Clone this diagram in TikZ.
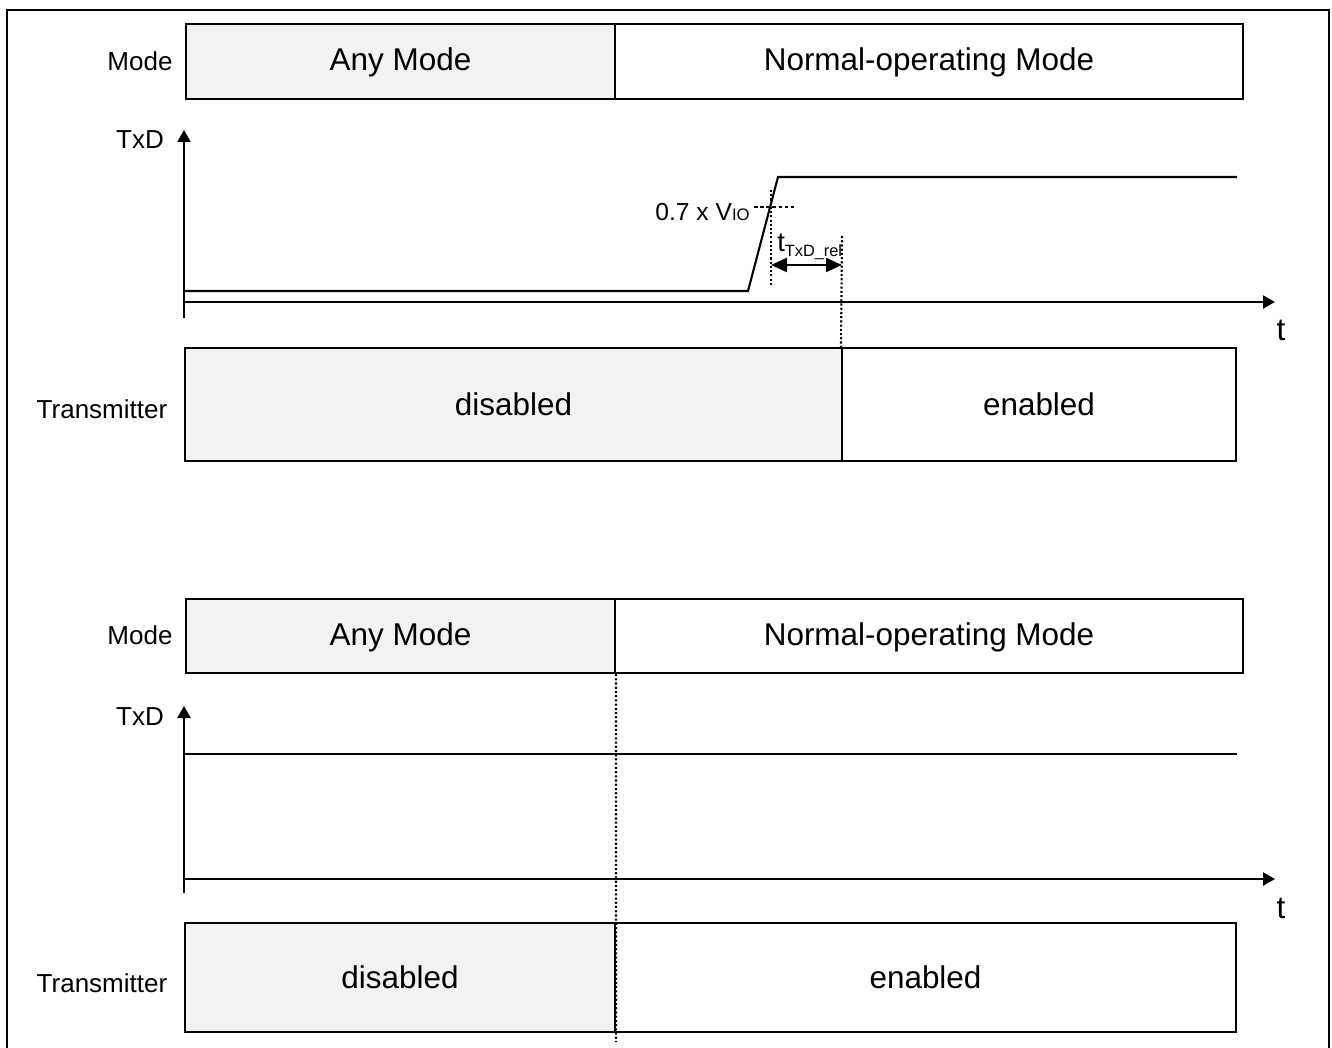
\documentclass[tikz,border=0pt]{standalone}
\usepackage{fontspec}
\setmainfont{Liberation Sans}
\usetikzlibrary{arrows.meta}
\definecolor{boxgrey}{HTML}{F2F2F2}
\begin{document}
\begin{tikzpicture}[x=0.02cm,y=-0.02cm,
  seg/.style={draw=black,line width=1.2pt,inner sep=0pt,font=\fontsize{17.9}{20}\selectfont},
  modeseg/.style={seg,text height=12.5pt,text depth=1.7pt},
  lab/.style={inner sep=0pt,font=\fontsize{14.8}{17}\selectfont},
  biglab/.style={inner sep=0pt,font=\fontsize{17.9}{20}\selectfont},
  axis/.style={line width=1.2pt,-{Triangle[length=0.24cm,width=0.26cm]}},
  sig/.style={line width=1.2pt},
  dotv/.style={line width=1.2pt,dash pattern=on 1.2pt off 1.2pt},
  dashh/.style={line width=1.1pt,dash pattern=on 2pt off 1.5pt},
  dim/.style={line width=1.2pt,{Triangle[length=0.32cm,width=0.28cm]}-{Triangle[length=0.32cm,width=0.28cm]}}
]
\useasboundingbox (0,0) rectangle (1332,1048);
% outer frame (open at bottom)
\draw[line width=0.85pt] (7,1048) -- (7,10) -- (1329,10) -- (1329,1048);

%================ top diagram =================
\node[modeseg,fill=boxgrey,minimum width=8.58cm,minimum height=1.5cm] (m1a) at (400.5,61.5) {Any Mode};
\node[modeseg,minimum width=12.56cm,minimum height=1.5cm] (m1b) at (929,61.5) {Normal-operating Mode};
\node[lab] (m1l) at (140,61) {Mode};

\coordinate (y1b) at (184,318);
\coordinate (y1t) at (184,130);
\draw[axis] (y1b) -- (y1t);
\coordinate (x1l) at (184,302);
\coordinate (x1r) at (1275,302);
\draw[axis] (x1l) -- (x1r);
\node[lab] (txd1) at (140,140) {TxD};
\node[biglab] (t1) at (1281,330) {t};

\coordinate (s1a) at (184,291);
\coordinate (s1b) at (748,291);
\coordinate (s1c) at (778,177);
\coordinate (s1d) at (1237,177);
\draw[sig] (s1a) -- (s1b) -- (s1c) -- (s1d);

\coordinate (th1) at (754,207);
\coordinate (th2) at (797,207);
\draw[dashh] (th1) -- (th2);
\node[inner sep=0pt,anchor=east,font=\fontsize{14}{15}\selectfont] (vio) at (750,212) {0.7 x V\raisebox{-0.5pt}{\fontsize{9.5}{10}\selectfont IO}};

\coordinate (v1t) at (771,190);
\coordinate (v1b) at (771,285);
\draw[dotv] (v1t) -- (v1b);
\coordinate (v2t) at (842,236);

\coordinate (d1) at (771,265);
\coordinate (d2) at (842,265);
\draw[dim] (d1) -- (d2);
\node[inner sep=0pt,anchor=west,font=\fontsize{15.5}{16}\selectfont] (trel) at (777,247) {t\raisebox{-3pt}{\fontsize{9.3}{10}\selectfont TxD\_rel}};

\node[seg,fill=boxgrey,minimum width=13.14cm,minimum height=2.26cm] (tr1a) at (513.5,404.5) {disabled};
\node[seg,minimum width=7.88cm,minimum height=2.26cm] (tr1b) at (1039,404.5) {enabled};
\node[lab] (tr1l) at (102,409) {Transmitter};
\draw[dotv] (v2t) -- (tr1b.north west);

%================ bottom diagram =================
\node[modeseg,fill=boxgrey,minimum width=8.58cm,minimum height=1.48cm] (m2a) at (400.5,636) {Any Mode};
\node[modeseg,minimum width=12.56cm,minimum height=1.48cm] (m2b) at (929,636) {Normal-operating Mode};
\node[lab] (m2l) at (140,635) {Mode};

\coordinate (y2b) at (184,893);
\coordinate (y2t) at (184,706);
\draw[axis] (y2b) -- (y2t);
\coordinate (x2l) at (184,879);
\coordinate (x2r) at (1275,879);
\draw[axis] (x2l) -- (x2r);
\node[lab] (txd2) at (140,717) {TxD};
\node[biglab] (t2) at (1281,908) {t};

\coordinate (s2a) at (184,754);
\coordinate (s2b) at (1237,754);
\draw[sig] (s2a) -- (s2b);

\node[seg,fill=boxgrey,minimum width=8.6cm,minimum height=2.18cm] (tr2a) at (400,977.5) {disabled};
\node[seg,minimum width=12.42cm,minimum height=2.18cm] (tr2b) at (925.5,977.5) {enabled};
\node[lab] (tr2l) at (102,983) {Transmitter};

\coordinate (v3b) at (616,1042);
\draw[dotv] (m2a.south east) -- (v3b);
\end{tikzpicture}
\end{document}
